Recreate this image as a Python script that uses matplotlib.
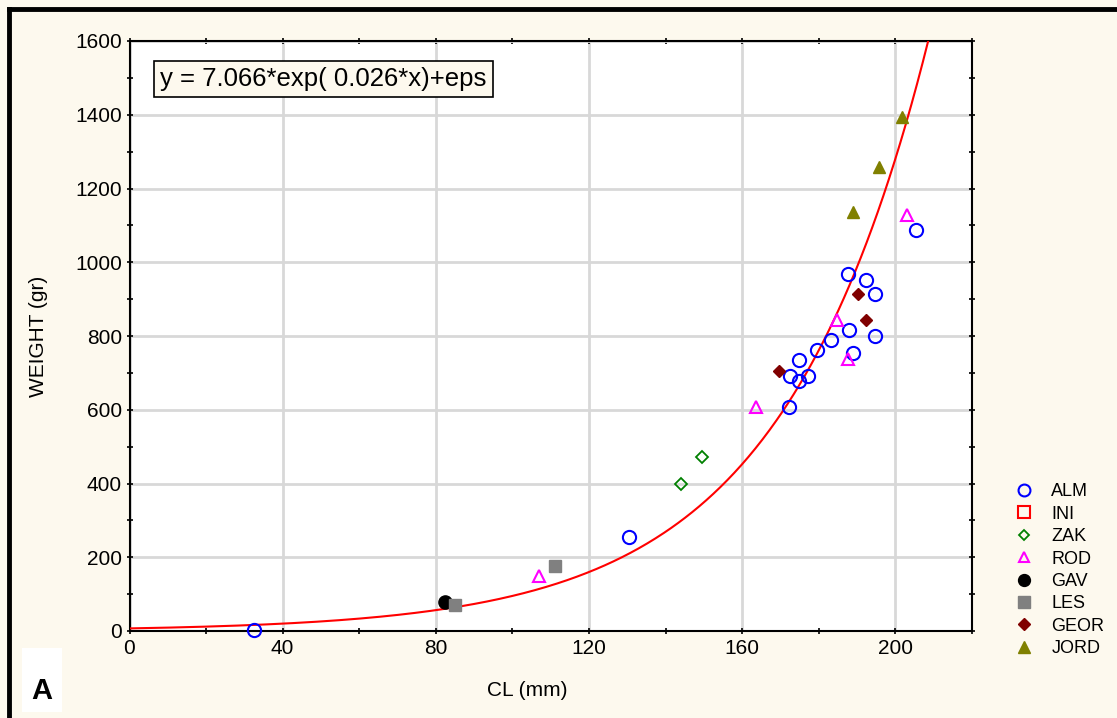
import matplotlib.pyplot as plt
import matplotlib.patches as mpatches
import matplotlib.lines as mlines
import numpy as np

plt.rcParams["font.family"] = ["Liberation Sans", "DejaVu Sans"]

# data
alm_x = [32.5, 130.5, 172.1, 172.6, 174.7, 174.9, 177.3, 179.5, 183.3, 187.5, 188.0, 188.8, 192.2, 194.8, 194.8, 205.5]
alm_y = [3, 255, 607, 692, 735, 678, 692, 762, 789, 968, 816, 754, 952, 914, 800, 1087]
ini_x = []
ini_y = []
zak_x = [144.1, 149.6]
zak_y = [399, 472]
rod_x = [107.0, 163.7, 184.8, 187.7, 203.1]
rod_y = [149, 607, 843, 738, 1128]
gav_x = [82.4]
gav_y = [79]
les_x = [85.0, 111.2]
les_y = [70, 176]
geor_x = [169.7, 190.3, 192.4]
geor_y = [705, 914, 843]
jord_x = [188.8, 195.6, 201.6]
jord_y = [1136, 1258, 1394]

fit_a = 7.066
fit_b = 0.026

bg = "#fdf9ee"

fig = plt.figure(figsize=(11.17, 7.18), dpi=100, facecolor=bg)
ax = fig.add_axes([129.5 / 1117, 1 - 631 / 718, (972 - 129.5) / 1117, (631 - 41) / 718])
ax.set_facecolor("white")

# series styles
series = [
    ("ALM", alm_x, alm_y, dict(marker="o", mfc="none", mec="#0000ff", ms=9.5, mew=1.5)),
    ("INI", ini_x, ini_y, dict(marker="s", mfc="none", mec="#ff0000", ms=9.5, mew=1.5)),
    ("ZAK", zak_x, zak_y, dict(marker="D", mfc="none", mec="#008000", ms=6, mew=1.3)),
    ("ROD", rod_x, rod_y, dict(marker="^", mfc="none", mec="#ff00ff", ms=8, mew=1.5)),
    ("GAV", gav_x, gav_y, dict(marker="o", mfc="black", mec="black", ms=9.5, mew=1)),
    ("LES", les_x, les_y, dict(marker="s", mfc="#808080", mec="#808080", ms=9, mew=1)),
    ("GEOR", geor_x, geor_y, dict(marker="D", mfc="#800000", mec="#800000", ms=6.5, mew=1)),
    ("JORD", jord_x, jord_y, dict(marker="^", mfc="#808000", mec="#808000", ms=9, mew=1)),
]

# fitted curve
xs = np.linspace(0, 220, 600)
ax.plot(xs, fit_a * np.exp(fit_b * xs), color="red", lw=1.5, zorder=3)

handles = []
for name, x, y, st in series:
    ax.plot(x, y, ls="none", zorder=4, clip_on=False, **st)
    hst = dict(st)
    hst["ms"] = st["ms"] * 0.9
    handles.append(mlines.Line2D([], [], ls="none", label=name, **hst))

ax.set_xlim(0, 220)
ax.set_ylim(0, 1600)
ax.set_xticks(np.arange(0, 201, 40))
ax.set_yticks(np.arange(0, 1601, 200))
ax.set_xticks(np.arange(0, 221, 20), minor=True)
ax.set_yticks(np.arange(0, 1601, 100), minor=True)
ax.grid(True, which="major", color="#d8d8d8", lw=2)
ax.set_axisbelow(True)
ax.tick_params(which="both", direction="inout", length=4, width=1.2, top=True, right=True,
               labeltop=False, labelright=False, labelsize=15)
for s in ax.spines.values():
    s.set_linewidth(1.5)

ax.set_xlabel("CL (mm)", fontsize=15, va="center")
ax.xaxis.set_label_coords((527 - 129.5) / 842.5, (631 - 690) / 590)
ax.set_ylabel("WEIGHT (gr)", fontsize=15, va="center")
ax.yaxis.set_label_coords((38 - 129.5) / 842.5, 0.5)

# equation box
fig.text(160 / 1117, 1 - 79 / 718, "y = 7.066*exp( 0.026*x)+eps", fontsize=18.5,
         va="center", ha="left",
         bbox=dict(boxstyle="square,pad=0.25", facecolor=bg, edgecolor="black", lw=1.2))

# legend
fig.legend(handles=handles, loc="upper left", bbox_to_anchor=(999 / 1117, 1 - 467 / 718),
           frameon=False, fontsize=13, labelspacing=0.3, handletextpad=1.0, handlelength=1.0)

# panel letter
fig.patches.append(mpatches.Rectangle((22 / 1117, 1 - 712 / 718), 40 / 1117, 64 / 718,
                                      transform=fig.transFigure, facecolor="white", edgecolor="none"))
fig.text(42 / 1117, 1 - 691 / 718, "A", fontsize=21, fontweight="bold", ha="center", va="center")

# frame on top and left
fig.add_artist(mlines.Line2D([9 / 1117, 1], [1 - 9 / 718, 1 - 9 / 718], color="black", lw=3.5,
                             transform=fig.transFigure))
fig.add_artist(mlines.Line2D([9 / 1117, 9 / 1117], [0, 1 - 9 / 718], color="black", lw=3.5,
                             transform=fig.transFigure))

fig.savefig("out.png", dpi=100, facecolor=bg)
